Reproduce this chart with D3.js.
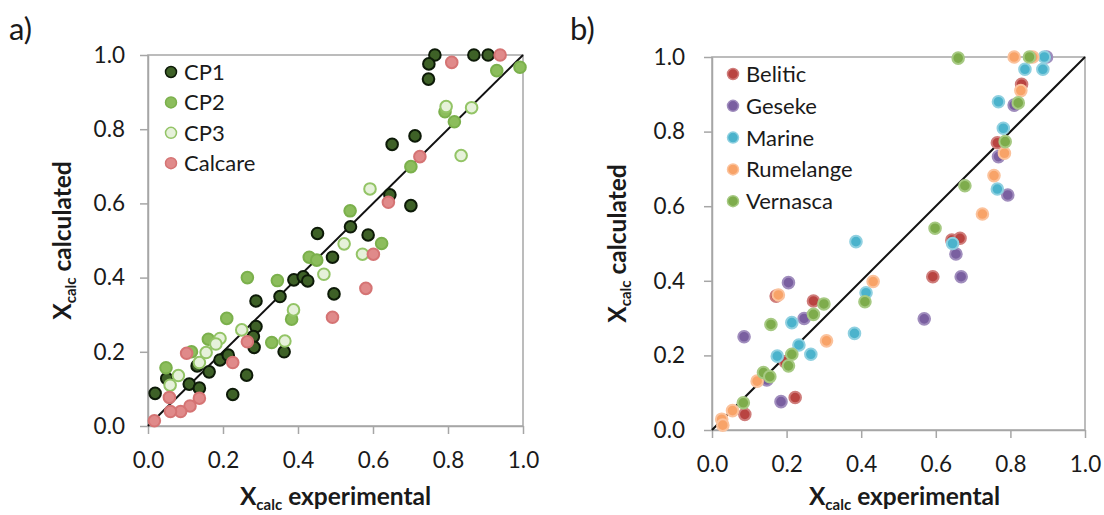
<!DOCTYPE html>
<html>
<head>
<meta charset="utf-8">
<script src="https://cdn.jsdelivr.net/npm/d3@7"></script>
<style>
  body { margin: 0; background: #fff; }
  svg text { font-family: Lato, "Open Sans", sans-serif; fill: #1a1a1a; }
</style>
</head>
<body>
<div class="chart"></div>
<script>
// Panel a) series, [experimental, calculated]
const cp1 = [[0.765,1.0],[0.749,0.976],[0.748,0.935],[0.869,1.0],[0.907,1.0],[0.712,0.782],[0.651,0.759],
  [0.645,0.623],[0.701,0.594],[0.54,0.537],[0.587,0.515],[0.492,0.455],[0.496,0.356],[0.452,0.519],
  [0.389,0.394],[0.414,0.402],[0.426,0.391],[0.288,0.337],[0.352,0.349],[0.288,0.268],[0.281,0.241],
  [0.283,0.212],[0.363,0.2],[0.263,0.137],[0.226,0.085],[0.192,0.178],[0.214,0.191],[0.131,0.162],
  [0.163,0.146],[0.05,0.128],[0.11,0.113],[0.137,0.102],[0.019,0.088]];
const cp2 = [[0.93,0.958],[0.992,0.967],[0.792,0.847],[0.817,0.82],[0.701,0.699],[0.539,0.58],[0.623,0.492],
  [0.43,0.455],[0.45,0.447],[0.265,0.40],[0.345,0.392],[0.383,0.288],[0.21,0.29],[0.33,0.225],
  [0.161,0.234],[0.116,0.2],[0.048,0.157]];
const cp3 = [[0.795,0.861],[0.863,0.858],[0.835,0.729],[0.592,0.639],[0.523,0.491],[0.572,0.463],[0.469,0.409],
  [0.388,0.313],[0.25,0.259],[0.365,0.229],[0.192,0.236],[0.181,0.221],[0.155,0.198],[0.137,0.171],
  [0.081,0.136],[0.059,0.11]];
const calcare = [[0.81,0.98],[0.939,1.0],[0.725,0.726],[0.641,0.603],[0.601,0.463],[0.581,0.371],[0.492,0.293],
  [0.265,0.227],[0.226,0.171],[0.103,0.196],[0.057,0.077],[0.137,0.075],[0.112,0.054],[0.087,0.039],
  [0.06,0.039],[0.017,0.014]];

// Panel b) series
const belitic = [[0.83,0.927],[0.765,0.77],[0.643,0.509],[0.665,0.514],[0.592,0.411],[0.172,0.359],
  [0.272,0.346],[0.196,0.183],[0.223,0.087],[0.088,0.042]];
const geseke = [[0.897,1.0],[0.81,0.871],[0.768,0.733],[0.793,0.63],[0.654,0.472],[0.668,0.411],[0.569,0.298],
  [0.205,0.395],[0.247,0.299],[0.086,0.25],[0.147,0.134],[0.185,0.076]];
const marine = [[0.891,1.0],[0.839,0.967],[0.887,0.967],[0.768,0.88],[0.781,0.809],[0.765,0.646],[0.645,0.5],
  [0.386,0.505],[0.413,0.368],[0.382,0.259],[0.214,0.288],[0.233,0.228],[0.265,0.203],[0.175,0.198]];
const rumelange = [[0.81,1.0],[0.86,1.0],[0.828,0.91],[0.784,0.742],[0.756,0.682],[0.725,0.579],[0.432,0.398],
  [0.307,0.239],[0.178,0.362],[0.121,0.131],[0.055,0.052],[0.026,0.029],[0.029,0.013]];
const vernasca = [[0.66,0.997],[0.851,1.0],[0.821,0.877],[0.786,0.773],[0.678,0.655],[0.598,0.541],[0.41,0.344],
  [0.30,0.338],[0.272,0.31],[0.158,0.283],[0.214,0.203],[0.205,0.172],[0.138,0.154],[0.155,0.143],[0.084,0.073]];

const ticks = [0, 0.2, 0.4, 0.6, 0.8, 1.0];

const panels = [
  {
    tag: 'a)', left: 148, top: 55, w: 375, h: 371, tagX: 9, yPad: 15, titleOff: 77, titleShift: 0,
    legendX: 171, legendY: 72, legendStep: 30.4,
    series: [
      { name: 'CP1', data: cp1, fill: '#3e6127', stroke: '#0d1a08' },
      { name: 'CP2', data: cp2, fill: '#8cbd5c', stroke: '#7bb04c' },
      { name: 'CP3', data: cp3, fill: '#e6f1da', stroke: '#93c466' },
      { name: 'Calcare', data: calcare, fill: '#e08a8a', stroke: '#d57474' }
    ]
  },
  {
    tag: 'b)', left: 712, top: 57, w: 373, h: 373, tagX: 570, yPad: 19, titleOff: 86, titleShift: 6,
    legendX: 733, legendY: 74, legendStep: 31.8,
    series: [
      { name: 'Belitic', data: belitic, fill: '#b94441', stroke: '#cf7d7b' },
      { name: 'Geseke', data: geseke, fill: '#7a5fa0', stroke: '#a08dbd' },
      { name: 'Marine', data: marine, fill: '#4bb3cc', stroke: '#8fd0e0' },
      { name: 'Rumelange', data: rumelange, fill: '#f8a368', stroke: '#fbc29c' },
      { name: 'Vernasca', data: vernasca, fill: '#7eac4c', stroke: '#a6c982' }
    ]
  }
];

const svg = d3.select('.chart')
  .append('svg')
  .attr('width', 1104)
  .attr('height', 515);

const grey = '#a6a6a6';

function xcalcLabel(sel, rest) {
  sel.append('tspan').text('X');
  sel.append('tspan').attr('font-size', 15).attr('dy', 5).text('calc');
  sel.append('tspan').attr('dy', -5).text(' ' + rest);
}

panels.forEach(p => {
  const x = d3.scaleLinear([0, 1], [0, p.w]);
  const y = d3.scaleLinear([0, 1], [p.h, 0]);

  svg.append('text')
    .attr('x', p.tagX)
    .attr('y', 40)
    .attr('font-size', 31)
    .text(p.tag);

  const g = svg.append('g')
    .attr('transform', `translate(${p.left}, ${p.top})`);

  // plot area border
  g.append('rect')
    .attr('width', p.w)
    .attr('height', p.h)
    .attr('fill', 'none')
    .attr('stroke', grey)
    .attr('stroke-width', 1.5);

  const xAxis = g.append('g')
    .attr('transform', `translate(0, ${p.h})`)
    .call(d3.axisBottom(x).tickValues(ticks).tickFormat(d3.format('.1f')).tickSize(8).tickSizeOuter(0).tickPadding(18));
  const yAxis = g.append('g')
    .call(d3.axisLeft(y).tickValues(ticks).tickFormat(d3.format('.1f')).tickSize(8).tickSizeOuter(0).tickPadding(p.yPad));

  [xAxis, yAxis].forEach(ax => {
    ax.select('.domain').attr('stroke', grey).attr('stroke-width', 1.5);
    ax.selectAll('.tick line').attr('stroke', grey).attr('stroke-width', 1.5);
    ax.selectAll('.tick text')
      .attr('font-size', 22.5)
      .attr('fill', '#1a1a1a')
      .style('font-family', 'Lato, sans-serif');
  });

  // 1:1 line
  g.append('line')
    .attr('x1', x(0)).attr('y1', y(0))
    .attr('x2', x(1)).attr('y2', y(1))
    .attr('stroke', '#111')
    .attr('stroke-width', 2);

  p.series.forEach(s => {
    g.selectAll(null)
      .data(s.data)
      .enter()
      .append('circle')
      .attr('cx', d => x(d[0]))
      .attr('cy', d => y(d[1]))
      .attr('r', 5.8)
      .attr('fill', s.fill)
      .attr('stroke', s.stroke)
      .attr('stroke-width', 2);
  });

  // legend
  const lg = svg.append('g');
  p.series.forEach((s, i) => {
    const ly = p.legendY + i * p.legendStep;
    lg.append('circle')
      .attr('cx', p.legendX).attr('cy', ly).attr('r', 5.5)
      .attr('fill', s.fill).attr('stroke', s.stroke).attr('stroke-width', 1.5);
    lg.append('text')
      .attr('x', p.legendX + 13).attr('y', ly + 8)
      .attr('font-size', 22)
      .text(s.name);
  });

  // axis titles
  svg.append('text')
    .attr('x', p.left + p.w / 2 + p.titleShift)
    .attr('y', 505)
    .attr('text-anchor', 'middle')
    .attr('font-size', 24.5)
    .attr('font-weight', 'bold')
    .call(xcalcLabel, 'experimental');

  svg.append('text')
    .attr('transform', `translate(${p.left - p.titleOff}, ${p.top + p.h / 2}) rotate(-90)`)
    .attr('text-anchor', 'middle')
    .attr('font-size', 24.5)
    .attr('font-weight', 'bold')
    .call(xcalcLabel, 'calculated');
});
</script>
</body>
</html>
